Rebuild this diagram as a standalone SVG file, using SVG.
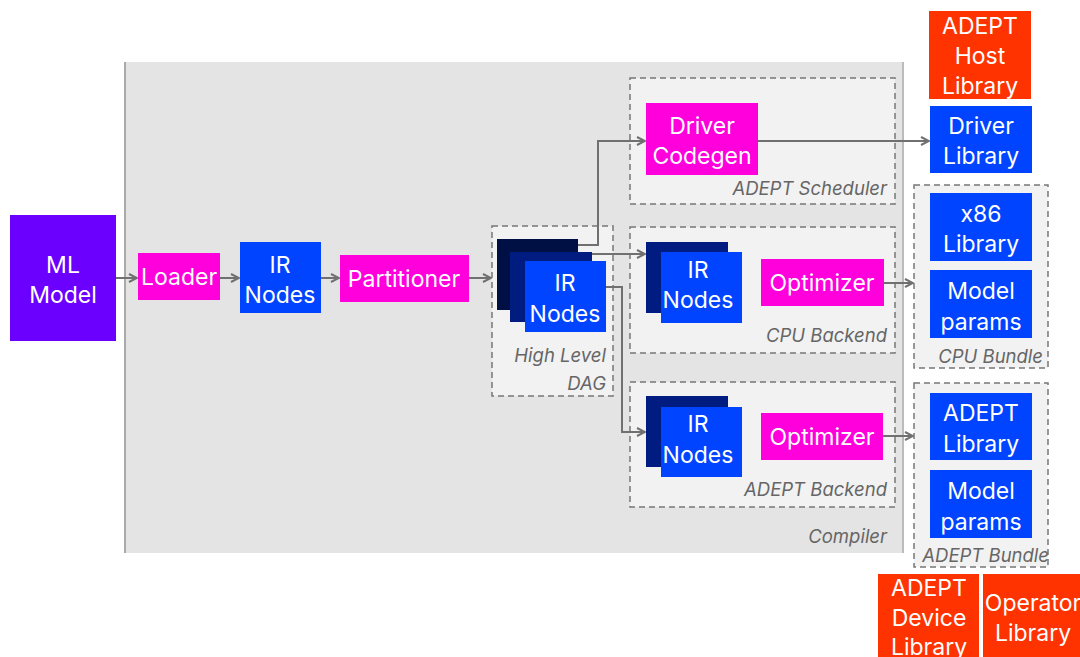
<svg xmlns="http://www.w3.org/2000/svg" width="1080" height="657" viewBox="0 0 1080 657">
<defs>
<style>
.t{font-family:Inter,"Noto Sans","Liberation Sans",sans-serif;font-size:23px;fill:#fff;text-anchor:middle}
.l{font-family:Inter,"Noto Sans","Liberation Sans",sans-serif;font-size:18.5px;fill:#666;font-style:italic;text-anchor:end}
.grp{fill:#f2f2f2;stroke:#777;stroke-width:1.5;stroke-dasharray:6 4}
.mag{fill:#ff00dd}
.blu{fill:#0044ff}
.red{fill:#ff3300}
.c{fill:none;stroke:#707070;stroke-width:2}
</style>
<marker id="a" viewBox="0 0 10 10" refX="9" refY="5" markerWidth="5" markerHeight="5" orient="auto">
<path d="M1,1 L9,5 L1,9" fill="none" stroke="#707070" stroke-width="2"/>
</marker>
</defs>
<rect width="1080" height="657" fill="#fff"/>
<g id="compiler">
<rect x="125" y="62" width="778" height="491" fill="#e4e4e4"/>
<line x1="125" y1="62" x2="125" y2="553" stroke="#aaa" stroke-width="2"/>
<line x1="903" y1="62" x2="903" y2="553" stroke="#bbb" stroke-width="2"/>
<text class="l" x="887" y="543">Compiler</text>
</g>
<g id="scheduler">
<rect class="grp" x="630" y="78" width="265" height="126"/>
<text class="l" x="887" y="195">ADEPT Scheduler</text>
</g>
<g id="cpu-backend">
<rect class="grp" x="630" y="227" width="265" height="126"/>
<text class="l" x="887" y="342">CPU Backend</text>
</g>
<g id="adept-backend">
<rect class="grp" x="630" y="382" width="265" height="125"/>
<text class="l" x="887" y="496">ADEPT Backend</text>
</g>
<g id="dag">
<rect class="grp" x="492" y="226" width="121" height="170"/>
<rect x="497" y="239" width="81" height="71" fill="#000f44"/>
<rect x="510" y="252" width="82" height="70" fill="#001c80"/>
<rect x="525" y="261" width="81" height="71" class="blu"/>
<text class="t" x="565" y="291">IR</text>
<text class="t" x="565" y="322">Nodes</text>
<text class="l" x="606" y="362">High Level</text>
<text class="l" x="606" y="390">DAG</text>
</g>
<g id="cpu-bundle">
<rect class="grp" x="914" y="185" width="134" height="183"/>
<text class="l" x="1043" y="363">CPU Bundle</text>
</g>
<g id="adept-bundle">
<rect class="grp" x="914" y="383" width="134" height="184"/>
<text class="l" x="1049" y="562">ADEPT Bundle</text>
</g>
<g id="ml-model">
<rect x="10" y="215" width="106" height="126" fill="#6b00ff"/>
<text class="t" x="63" y="273">ML</text>
<text class="t" x="63" y="303">Model</text>
</g>
<g id="loader">
<rect x="138" y="253" width="82" height="47" class="mag"/>
<text class="t" x="179" y="285">Loader</text>
</g>
<g id="ir-nodes">
<rect x="240" y="242" width="81" height="71" class="blu"/>
<text class="t" x="280" y="273">IR</text>
<text class="t" x="280" y="303">Nodes</text>
</g>
<g id="partitioner">
<rect x="340" y="255" width="129" height="47" class="mag"/>
<text class="t" x="404" y="287">Partitioner</text>
</g>
<g id="driver-codegen">
<rect x="646" y="103" width="112" height="72" class="mag"/>
<text class="t" x="702" y="134">Driver</text>
<text class="t" x="702" y="164">Codegen</text>
</g>
<g id="cpu-ir">
<rect x="646" y="242" width="82" height="71" fill="#001c80"/>
<rect x="661" y="252" width="81" height="71" class="blu"/>
<text class="t" x="698" y="278">IR</text>
<text class="t" x="698" y="308">Nodes</text>
</g>
<g id="cpu-optimizer">
<rect x="761" y="259" width="123" height="47" class="mag"/>
<text class="t" x="822" y="291">Optimizer</text>
</g>
<g id="adept-ir">
<rect x="646" y="396" width="82" height="71" fill="#001c80"/>
<rect x="661" y="407" width="81" height="70" class="blu"/>
<text class="t" x="698" y="432">IR</text>
<text class="t" x="698" y="463">Nodes</text>
</g>
<g id="adept-optimizer">
<rect x="761" y="413" width="122" height="47" class="mag"/>
<text class="t" x="822" y="445">Optimizer</text>
</g>
<g id="host-library">
<rect x="929" y="11" width="102" height="88" class="red"/>
<text class="t" x="980" y="34">ADEPT</text>
<text class="t" x="980" y="64">Host</text>
<text class="t" x="980" y="94">Library</text>
</g>
<g id="driver-library">
<rect x="930" y="106" width="102" height="67" class="blu"/>
<text class="t" x="981" y="134">Driver</text>
<text class="t" x="981" y="164">Library</text>
</g>
<g id="x86-library">
<rect x="930" y="193" width="102" height="68" class="blu"/>
<text class="t" x="981" y="222">x86</text>
<text class="t" x="981" y="252">Library</text>
</g>
<g id="cpu-params">
<rect x="930" y="270" width="102" height="68" class="blu"/>
<text class="t" x="981" y="299">Model</text>
<text class="t" x="981" y="330">params</text>
</g>
<g id="adept-library">
<rect x="930" y="393" width="102" height="67" class="blu"/>
<text class="t" x="981" y="421">ADEPT</text>
<text class="t" x="981" y="452">Library</text>
</g>
<g id="adept-params">
<rect x="930" y="470" width="102" height="68" class="blu"/>
<text class="t" x="981" y="499">Model</text>
<text class="t" x="981" y="530">params</text>
</g>
<g id="device-library">
<rect x="878" y="574" width="101" height="83" class="red"/>
<text class="t" x="929" y="596">ADEPT</text>
<text class="t" x="929" y="626">Device</text>
<text class="t" x="929" y="655">Library</text>
</g>
<g id="operator-library">
<rect x="983" y="574" width="97" height="83" class="red"/>
<text class="t" x="1033" y="611">Operator</text>
<text class="t" x="1033" y="641">Library</text>
</g>
<g id="connectors">
<path class="c" d="M116,278 H137" marker-end="url(#a)"/>
<path class="c" d="M220,278 H239" marker-end="url(#a)"/>
<path class="c" d="M321,278 H339" marker-end="url(#a)"/>
<path class="c" d="M469,278 H491" marker-end="url(#a)"/>
<path class="c" d="M578,245 H598 V141 H645" marker-end="url(#a)"/>
<path class="c" d="M592,254 H645" marker-end="url(#a)"/>
<path class="c" d="M606,287 H622 V432 H645" marker-end="url(#a)"/>
<path class="c" d="M758,141 H929" marker-end="url(#a)"/>
<path class="c" d="M884,283 H913" marker-end="url(#a)"/>
<path class="c" d="M883,436 H913" marker-end="url(#a)"/>
</g>
</svg>
